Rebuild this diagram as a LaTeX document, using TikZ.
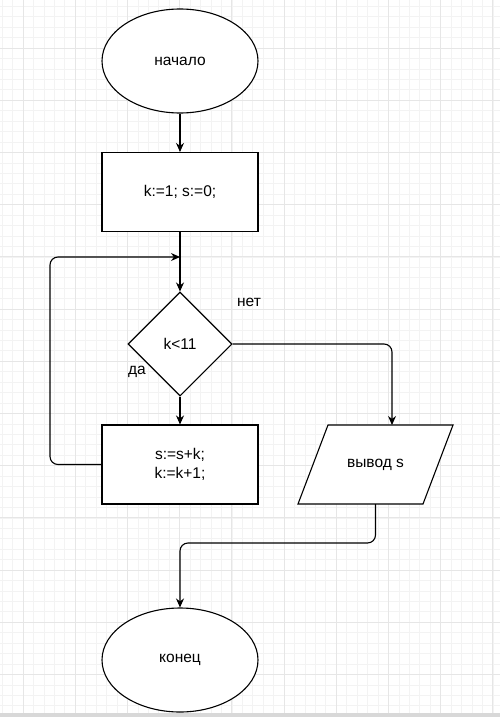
\documentclass[tikz,border=0pt]{standalone}
\usepackage{fontspec}
\setmainfont{Liberation Sans}
\usetikzlibrary{shapes.geometric,arrows.meta}
\definecolor{gminor}{HTML}{F3F3F3}
\definecolor{gmajor}{HTML}{E6E6E6}
\definecolor{gbar}{HTML}{D8D8D8}
\begin{document}
\begin{tikzpicture}[x=1pt,y=-1pt,
  every node/.style={font=\fontsize{15.5}{19}\selectfont},
  term/.style={draw=black,line width=1.1pt,ellipse,minimum width=156pt,minimum height=104pt,inner sep=0pt,fill=white},
  proc/.style={draw=black,line width=1.1pt,rectangle,minimum width=156pt,minimum height=79pt,inner sep=0pt,fill=white,align=center},
  cond/.style={draw=black,line width=1.1pt,diamond,minimum width=104pt,minimum height=104pt,inner sep=0pt,fill=white},
  lbl/.style={inner sep=0pt},
  arr/.style={line width=1.1pt,-{Stealth[length=9pt,width=8pt]}},
  ln/.style={line width=1.1pt}]
\useasboundingbox (0,0) rectangle (500,717);
\fill[white] (0,0) rectangle (500,717);
% grid
\foreach \i in {-2,...,47} {
  \draw[gminor,line width=0.6pt] ({23+\i*10.44},0) -- ({23+\i*10.44},717);
}
\foreach \i in {-4,...,64} {
  \draw[gminor,line width=0.6pt] (0,{48+\i*10.44}) -- (500,{48+\i*10.44});
}
\foreach \i in {0,...,9} {
  \draw[gmajor,line width=0.7pt] ({23+\i*52.2},0) -- ({23+\i*52.2},717);
}
\foreach \i in {-1,...,13} {
  \draw[gmajor,line width=0.7pt] (0,{48+\i*52.2}) -- (500,{48+\i*52.2});
}
\fill[gbar] (0,713) rectangle (500,717);
% nodes
\node[term] (start) at (180,61) {начало};
\node[proc] (init) at (180,192) {k:=1; s:=0;};
\node[cond] (dec) at (180,344) {k<11};
\node[proc] (body) at (180,464.5) {s:=s+k;\\k:=k+1;};
\fill[white] (298,504) -- (328,425) -- (453,425) -- (423,504) -- cycle;
\draw[ln,line join=miter] (298,504) -- (328,425) -- (453,425) -- (423,504) -- cycle;
\node[rectangle,minimum width=155pt,minimum height=79pt,inner sep=0pt] (out) at (375.5,464.5) {вывод s};
\node[term] (end) at (180,660) {конец};
\node[lbl] (yes) at (137,372) {да};
\node[lbl] (no) at (249,302) {нет};
% helper coordinates
\coordinate (join) at (180,257);
\coordinate (lp) at (50,257);
\coordinate (outin) at (392,425);
\coordinate (m2) at (180,543);
% connectors
\draw[arr] (start.south) -- (init.north);
\draw[arr] (init.south) -- (dec.north);
\draw[arr] (dec.south) -- (body.north);
\draw[arr,rounded corners=8pt] (body.west) -| (lp) -- (join);
\draw[arr,rounded corners=8pt] (dec.east) -| (outin);
\draw[arr,rounded corners=8pt] (out.south) |- (m2) -- (end.north);
\end{tikzpicture}
\end{document}
